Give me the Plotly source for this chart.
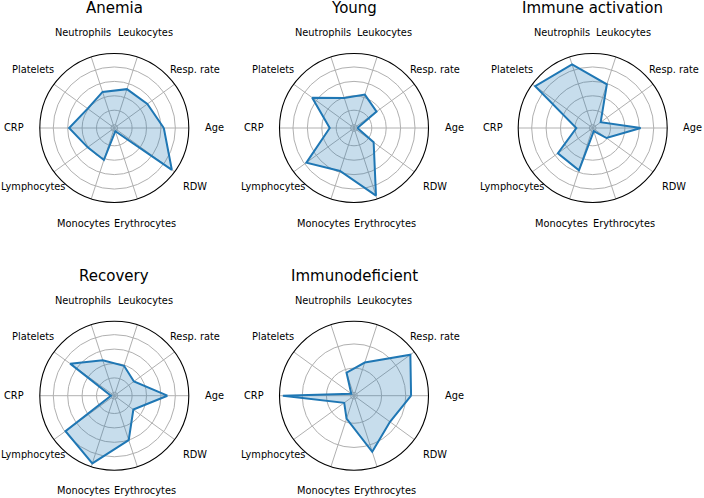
import math
import plotly.graph_objects as go

# ---- data ----
categories = ["Age", "Resp. rate", "Leukocytes", "Neutrophils", "Platelets",
              "CRP", "Lymphocytes", "Monocytes", "Erythrocytes", "RDW"]
angles_deg = [0, 36, 72, 108, 144, 180, 216, 252, 288, 324]

titles = ["Anemia", "Young", "Immune activation", "Recovery", "Immunodeficient"]

anemia = [0.64, 0.52, 0.52, 0.48, 0.41, 0.58, 0.41, 0.42, 0.00, 0.94]
young = [0.00, 0.34, 0.44, 0.39, 0.67, 0.29, 0.77, 0.58, 0.94, 0.29]
immune_activation = [0.62, 0.09, 0.59, 0.88, 0.94, 0.18, 0.55, 0.57, 0.00, 0.19]
recovery = [0.69, 0.29, 0.39, 0.47, 0.71, 0.00, 0.79, 0.94, 0.60, 0.28]
immunodeficient = [1.11, 1.37, 0.65, 0.43, 0.00, 1.40, 0.18, 0.43, 1.15, 0.85]

series = [anemia, young, immune_activation, recovery, immunodeficient]

# radial grid ring values per subplot
ring_sets = [
    [0, 0.2, 0.4, 0.6, 0.8],
    [0, 0.2, 0.4, 0.6, 0.8],
    [0, 0.2, 0.4, 0.6, 0.8],
    [0, 0.2, 0.4, 0.6, 0.8],
    [0, 0.5, 1.0],
]

# ---- layout geometry ----
W, H = 704, 498
col_centers = [114.3, 354.0, 592.7]
row_centers = [128.0, 395.7]
R = 74.5
label_dist = 100.0
title_offset = 119.5
margin_frac = 0.05

LINE = "#1f77b4"
FILL = "rgba(31,119,180,0.25)"
GRID = "#b0b0b0"
FONT = "DejaVu Sans"

fig = go.Figure()
annotations = []
for i, (name, vals, rings) in enumerate(zip(titles, series, ring_sets)):
    row, col = divmod(i, 3)
    cx, cy = col_centers[col], row_centers[row]
    pid = "polar" if i == 0 else f"polar{i+1}"
    lo, hi = min(vals), max(vals)
    span = hi - lo
    rng = [lo - margin_frac * span, hi + margin_frac * span]
    fig.add_trace(go.Scatterpolar(
        r=vals + vals[:1], theta=angles_deg + angles_deg[:1],
        mode="lines", fill="toself", fillcolor=FILL,
        line=dict(color=LINE, width=2), subplot=pid, showlegend=False,
        hoverinfo="skip"))
    fig.update_layout(**{pid: dict(
        domain=dict(x=[(cx - R) / W, (cx + R) / W],
                    y=[1 - (cy + R) / H, 1 - (cy - R) / H]),
        bgcolor="white",
        radialaxis=dict(range=rng, tickvals=rings,
                        showticklabels=False, ticks="", showline=False,
                        gridcolor=GRID, gridwidth=0.8),
        angularaxis=dict(tickvals=angles_deg, showticklabels=False, ticks="",
                         rotation=0, direction="counterclockwise",
                         gridcolor=GRID, gridwidth=0.8,
                         showline=True, linecolor="black", linewidth=1.1),
    )})
    annotations.append(dict(
        text=name, x=cx / W, y=1 - (cy - title_offset) / H,
        xref="paper", yref="paper", xanchor="center", yanchor="middle",
        showarrow=False, font=dict(family=FONT, size=15, color="#000000")))
    for cat, ang in zip(categories, angles_deg):
        a = math.radians(ang)
        lx = cx + label_dist * math.cos(a)
        ly = cy - label_dist * math.sin(a)
        annotations.append(dict(
            text=cat, x=lx / W, y=1 - ly / H, xref="paper", yref="paper",
            xanchor="center", yanchor="middle", showarrow=False,
            font=dict(family=FONT, size=9.8, color="#000000")))

fig.update_layout(width=W, height=H, margin=dict(l=0, r=0, t=0, b=0),
                  paper_bgcolor="white", plot_bgcolor="white",
                  annotations=annotations, showlegend=False)
fig.write_html("out.html")
